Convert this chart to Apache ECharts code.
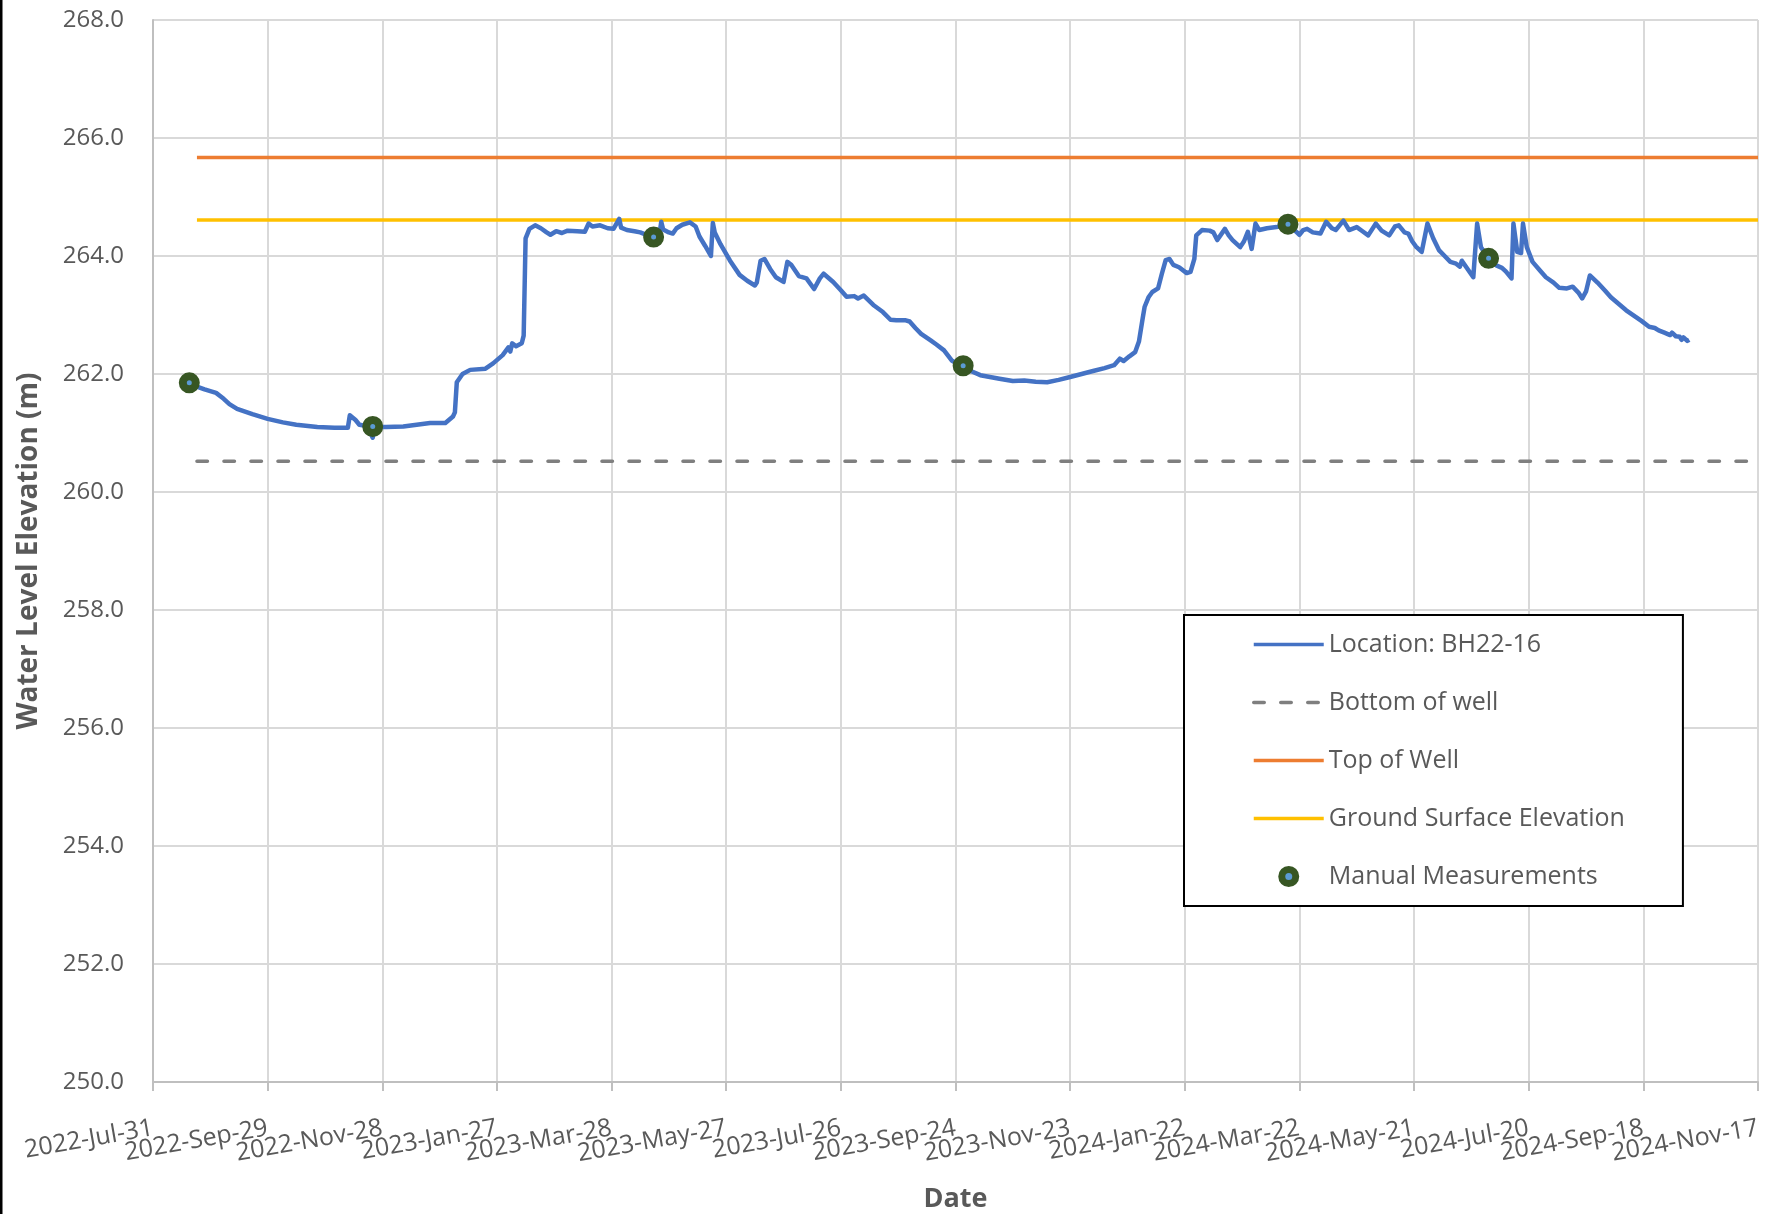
<!DOCTYPE html>
<html>
<head>
<meta charset="utf-8">
<script src="https://cdn.jsdelivr.net/npm/echarts@6/dist/echarts.min.js"></script>
<style>
  html, body { margin: 0; padding: 0; background: #fff; }
  #chart { width: 1768px; height: 1214px; }
</style>
</head>
<body>
<div id="chart"></div>
<script>
// ---------------- DATA ----------------
const axisStartDate = "2022-07-31";
const axisEndDate = "2024-11-17";
const tickStepDays = 60;
const yTicks = [250, 252, 254, 256, 258, 260, 262, 264, 266, 268];

const seriesNames = ["Location: BH22-16", "Bottom of well", "Top of Well", "Ground Surface Elevation", "Manual Measurements"];

// logger readings: [date, water level elevation (m)]
const levelReadings = [
  ["2022-08-20", 261.82], ["2022-08-27", 261.74], ["2022-09-02", 261.68], ["2022-09-06", 261.58],
  ["2022-09-09", 261.49], ["2022-09-13", 261.41], ["2022-09-21", 261.32], ["2022-09-29", 261.24],
  ["2022-10-07", 261.18], ["2022-10-14", 261.14], ["2022-10-25", 261.10], ["2022-11-03", 261.09],
  ["2022-11-10", 261.09], ["2022-11-11", 261.30], ["2022-11-12", 261.31], ["2022-11-14", 261.22],
  ["2022-11-16", 261.14], ["2022-11-20", 261.12], ["2022-11-23", 260.92], ["2022-11-24", 261.10],
  ["2022-11-30", 261.10], ["2022-12-09", 261.11], ["2022-12-16", 261.14], ["2022-12-23", 261.17],
  ["2022-12-31", 261.17],
  ["2023-01-04", 261.28], ["2023-01-05", 261.35], ["2023-01-06", 261.86], ["2023-01-09", 262.00],
  ["2023-01-13", 262.07], ["2023-01-21", 262.09], ["2023-01-25", 262.18], ["2023-01-30", 262.32],
  ["2023-02-02", 262.45], ["2023-02-03", 262.38], ["2023-02-04", 262.52], ["2023-02-06", 262.47],
  ["2023-02-09", 262.52], ["2023-02-10", 262.65], ["2023-02-11", 264.30], ["2023-02-13", 264.46],
  ["2023-02-16", 264.52], ["2023-02-19", 264.47], ["2023-02-22", 264.40], ["2023-02-24", 264.36],
  ["2023-02-27", 264.42], ["2023-03-02", 264.39], ["2023-03-05", 264.43], ["2023-03-10", 264.42],
  ["2023-03-14", 264.41], ["2023-03-16", 264.55], ["2023-03-18", 264.50], ["2023-03-22", 264.52],
  ["2023-03-26", 264.47], ["2023-03-29", 264.46], ["2023-04-01", 264.63], ["2023-04-02", 264.48],
  ["2023-04-05", 264.44], ["2023-04-09", 264.42], ["2023-04-12", 264.40], ["2023-04-16", 264.35],
  ["2023-04-19", 264.30], ["2023-04-22", 264.35], ["2023-04-23", 264.58], ["2023-04-24", 264.45],
  ["2023-04-27", 264.40], ["2023-04-29", 264.38], ["2023-05-01", 264.47], ["2023-05-04", 264.53],
  ["2023-05-08", 264.57], ["2023-05-11", 264.50], ["2023-05-13", 264.33], ["2023-05-16", 264.17],
  ["2023-05-19", 264.00], ["2023-05-20", 264.56], ["2023-05-21", 264.40], ["2023-05-24", 264.20],
  ["2023-05-29", 263.92], ["2023-06-03", 263.68], ["2023-06-07", 263.58], ["2023-06-11", 263.50],
  ["2023-06-12", 263.55], ["2023-06-14", 263.92], ["2023-06-16", 263.95], ["2023-06-19", 263.78],
  ["2023-06-22", 263.64], ["2023-06-26", 263.56], ["2023-06-28", 263.90], ["2023-06-30", 263.85],
  ["2023-07-04", 263.66], ["2023-07-08", 263.62], ["2023-07-12", 263.44], ["2023-07-15", 263.62],
  ["2023-07-17", 263.70], ["2023-07-22", 263.56], ["2023-07-26", 263.42], ["2023-07-29", 263.31],
  ["2023-08-02", 263.32], ["2023-08-04", 263.28], ["2023-08-07", 263.33], ["2023-08-12", 263.17],
  ["2023-08-17", 263.05], ["2023-08-21", 262.92], ["2023-08-24", 262.91], ["2023-08-29", 262.91],
  ["2023-08-31", 262.89], ["2023-09-03", 262.78], ["2023-09-06", 262.68], ["2023-09-11", 262.57],
  ["2023-09-14", 262.50], ["2023-09-18", 262.40], ["2023-09-22", 262.23], ["2023-09-28", 262.12],
  ["2023-10-02", 262.05], ["2023-10-07", 261.98], ["2023-10-12", 261.95], ["2023-10-17", 261.92],
  ["2023-10-24", 261.88], ["2023-10-30", 261.89], ["2023-11-05", 261.87], ["2023-11-11", 261.86],
  ["2023-11-17", 261.90], ["2023-11-23", 261.95], ["2023-11-29", 262.00], ["2023-12-05", 262.05],
  ["2023-12-11", 262.10], ["2023-12-16", 262.15], ["2023-12-19", 262.26], ["2023-12-21", 262.22],
  ["2023-12-24", 262.30], ["2023-12-27", 262.37], ["2023-12-29", 262.55], ["2023-12-31", 262.95],
  ["2024-01-01", 263.14], ["2024-01-03", 263.30], ["2024-01-05", 263.39], ["2024-01-08", 263.45],
  ["2024-01-09", 263.42], ["2024-01-10", 263.70], ["2024-01-12", 263.93], ["2024-01-14", 263.95],
  ["2024-01-16", 263.85], ["2024-01-19", 263.81], ["2024-01-23", 263.71], ["2024-01-25", 263.73],
  ["2024-01-27", 263.95], ["2024-01-28", 264.35], ["2024-01-31", 264.44], ["2024-02-04", 264.43],
  ["2024-02-06", 264.40], ["2024-02-08", 264.27], ["2024-02-12", 264.46], ["2024-02-14", 264.35],
  ["2024-02-16", 264.27], ["2024-02-20", 264.15], ["2024-02-22", 264.25], ["2024-02-24", 264.41],
  ["2024-02-26", 264.12], ["2024-02-28", 264.55], ["2024-03-01", 264.44], ["2024-03-05", 264.47],
  ["2024-03-10", 264.49], ["2024-03-16", 264.53], ["2024-03-19", 264.45], ["2024-03-22", 264.36],
  ["2024-03-24", 264.44], ["2024-03-26", 264.46], ["2024-03-29", 264.40], ["2024-04-02", 264.38],
  ["2024-04-05", 264.58], ["2024-04-08", 264.47], ["2024-04-10", 264.44], ["2024-04-12", 264.52],
  ["2024-04-14", 264.60], ["2024-04-17", 264.44], ["2024-04-21", 264.49], ["2024-04-24", 264.42],
  ["2024-04-27", 264.35], ["2024-05-01", 264.55], ["2024-05-04", 264.43], ["2024-05-08", 264.35],
  ["2024-05-11", 264.50], ["2024-05-13", 264.52], ["2024-05-16", 264.40], ["2024-05-18", 264.38],
  ["2024-05-20", 264.25], ["2024-05-22", 264.16], ["2024-05-25", 264.07], ["2024-05-28", 264.55],
  ["2024-05-31", 264.30], ["2024-06-03", 264.10], ["2024-06-06", 264.00], ["2024-06-09", 263.90],
  ["2024-06-12", 263.87], ["2024-06-14", 263.82], ["2024-06-15", 263.92], ["2024-06-18", 263.78],
  ["2024-06-21", 263.64], ["2024-06-23", 264.55], ["2024-06-25", 264.15], ["2024-06-29", 263.96],
  ["2024-07-03", 263.84], ["2024-07-06", 263.80], ["2024-07-08", 263.74], ["2024-07-11", 263.62],
  ["2024-07-12", 264.55], ["2024-07-14", 264.07], ["2024-07-16", 264.05], ["2024-07-17", 264.55],
  ["2024-07-19", 264.15], ["2024-07-22", 263.90], ["2024-07-26", 263.75], ["2024-07-29", 263.64],
  ["2024-08-02", 263.55], ["2024-08-05", 263.46], ["2024-08-09", 263.45], ["2024-08-12", 263.48],
  ["2024-08-15", 263.38], ["2024-08-17", 263.28], ["2024-08-19", 263.40], ["2024-08-21", 263.67],
  ["2024-08-25", 263.55], ["2024-08-29", 263.41], ["2024-09-01", 263.30], ["2024-09-05", 263.19],
  ["2024-09-09", 263.08], ["2024-09-13", 262.99], ["2024-09-17", 262.90], ["2024-09-21", 262.80],
  ["2024-09-24", 262.78], ["2024-09-26", 262.74], ["2024-09-29", 262.70], ["2024-10-02", 262.66],
  ["2024-10-03", 262.70], ["2024-10-05", 262.64], ["2024-10-07", 262.63], ["2024-10-08", 262.58],
  ["2024-10-09", 262.62], ["2024-10-11", 262.56], ["2024-10-12", 262.58]
];

const manualDates = ["2022-08-19", "2022-11-23", "2023-04-19", "2023-09-28", "2024-03-16", "2024-06-29"];
const manualValues = [261.85, 261.11, 264.32, 262.14, 264.54, 263.96];

const refLineDates = ["2022-08-23", "2024-11-17"];
const bottomOfWell = 260.52;
const topOfWell = 265.67;
const groundSurface = 264.61;

// ---------------- HELPERS ----------------
const DAY = 86400000;
const MONTHS = ["Jan","Feb","Mar","Apr","May","Jun","Jul","Aug","Sep","Oct","Nov","Dec"];
function toUTC(s) { const p = s.split("-").map(Number); return Date.UTC(p[0], p[1] - 1, p[2]); }
const t0 = toUTC(axisStartDate);
function dayOf(s) { return Math.round((toUTC(s) - t0) / DAY); }
function fmtDay(d) {
  const dt = new Date(t0 + d * DAY);
  const dd = dt.getUTCDate();
  return dt.getUTCFullYear() + "-" + MONTHS[dt.getUTCMonth()] + "-" + (dd < 10 ? "0" + dd : dd);
}
const xMax = dayOf(axisEndDate);

const TXT = "#595959";
const FONT = "Open Sans";

const chart = echarts.init(document.getElementById("chart"), null, { renderer: "canvas" });

const hiddenDot = { opacity: 0 };

const labelBase = { rotate: 10, margin: 46, fontSize: 25, color: TXT, fontFamily: FONT, interval: 0, hideOverlap: false };
const tickBase = { show: true, inside: false, length: 9, interval: 0, lineStyle: { color: "#bfbfbf", width: 2 } };

const option = {
  animation: false,
  backgroundColor: "#ffffff",
  textStyle: { fontFamily: FONT },
  grid: { left: 153, right: 10, top: 20, bottom: 132, containLabel: false, outerBoundsMode: "none" },
  xAxis: [
    {
      type: "value", gridIndex: 0, position: "bottom",
      min: 0, max: xMax, interval: tickStepDays,
      name: "Date", nameLocation: "middle", nameGap: 104,
      nameTextStyle: { fontSize: 27, fontWeight: "bold", color: TXT, fontFamily: FONT },
      axisLine: { show: true, lineStyle: { color: "#bfbfbf", width: 2 } },
      axisTick: tickBase,
      axisLabel: Object.assign({}, labelBase, {
        showMinLabel: true, showMaxLabel: true,
        formatter: function (v) { return fmtDay(v); }
      }),
      splitLine: { show: true, interval: 0, lineStyle: { color: "#d9d9d9", width: 2 } }
    },
    {
      // companion axis on the same scale: restores the labels next to the forced min/max labels
      type: "value", gridIndex: 0, position: "bottom",
      min: 0, max: xMax, interval: tickStepDays,
      axisLine: { show: false },
      axisTick: tickBase,
      axisLabel: Object.assign({}, labelBase, {
        showMinLabel: false, showMaxLabel: false,
        formatter: function (v) {
          return (v === tickStepDays || v === xMax - tickStepDays) ? fmtDay(v) : "";
        }
      }),
      splitLine: { show: false }
    }
  ],
  yAxis: {
    type: "value",
    min: yTicks[0],
    max: yTicks[yTicks.length - 1],
    interval: yTicks[1] - yTicks[0],
    name: "Water Level Elevation (m)",
    nameLocation: "middle",
    nameGap: 110,
    nameTextStyle: { fontSize: 28, fontWeight: "bold", color: TXT, fontFamily: FONT },
    axisLine: { show: true, lineStyle: { color: "#bfbfbf", width: 2 } },
    axisTick: { show: false },
    axisLabel: { margin: 29, fontSize: 24, color: TXT, fontFamily: FONT,
      formatter: function (v) { return v.toFixed(1); } },
    splitLine: { show: true, lineStyle: { color: "#d9d9d9", width: 2 } }
  },
  legend: {
    orient: "vertical",
    left: 1184,
    top: 615,
    padding: [17, 58, 17, 68],
    itemGap: 33,
    itemWidth: 70,
    itemHeight: 14,
    backgroundColor: "#ffffff",
    borderColor: "#000000",
    borderWidth: 2,
    borderRadius: 0,
    lineStyle: { width: 3.5 },
    textStyle: { fontSize: 25, color: TXT, fontFamily: FONT },
    data: [
      { name: seriesNames[0], itemStyle: hiddenDot },
      { name: seriesNames[1], itemStyle: hiddenDot },
      { name: seriesNames[2], itemStyle: hiddenDot },
      { name: seriesNames[3], itemStyle: hiddenDot },
      { name: seriesNames[4], itemStyle: { color: "#5b9bd5", borderColor: "#375623", borderWidth: 7 } }
    ]
  },
  graphic: [
    { type: "rect", left: 0, top: 0, shape: { width: 2.5, height: 1214 }, style: { fill: "#000" }, z: 100 }
  ],
  series: [
    {
      name: seriesNames[0], type: "line", symbol: "none", z: 4, xAxisIndex: 0,
      lineStyle: { color: "#4472c4", width: 4.5, join: "round" },
      itemStyle: { color: "#4472c4" },
      data: levelReadings.map(r => [dayOf(r[0]), r[1]])
    },
    {
      name: seriesNames[1], type: "line", symbol: "none", z: 3, xAxisIndex: 0,
      lineStyle: { color: "#7f7f7f", width: 3.5, type: [10.5, 16.5], cap: "round" },
      itemStyle: { color: "#7f7f7f" },
      data: refLineDates.map(d => [dayOf(d), bottomOfWell])
    },
    {
      name: seriesNames[2], type: "line", symbol: "none", z: 3, xAxisIndex: 0,
      lineStyle: { color: "#ed7d31", width: 3.5 },
      itemStyle: { color: "#ed7d31" },
      data: refLineDates.map(d => [dayOf(d), topOfWell])
    },
    {
      name: seriesNames[3], type: "line", symbol: "none", z: 3, xAxisIndex: 0,
      lineStyle: { color: "#ffc000", width: 3.5 },
      itemStyle: { color: "#ffc000" },
      data: refLineDates.map(d => [dayOf(d), groundSurface])
    },
    {
      name: seriesNames[4], type: "scatter", z: 6, xAxisIndex: 0,
      symbol: "circle", symbolSize: 13,
      itemStyle: { color: "#5b9bd5", borderColor: "#375623", borderWidth: 8, opacity: 1 },
      data: manualDates.map((d, i) => [dayOf(d), manualValues[i]])
    }
  ]
};

chart.setOption(option);
</script>
</body>
</html>
